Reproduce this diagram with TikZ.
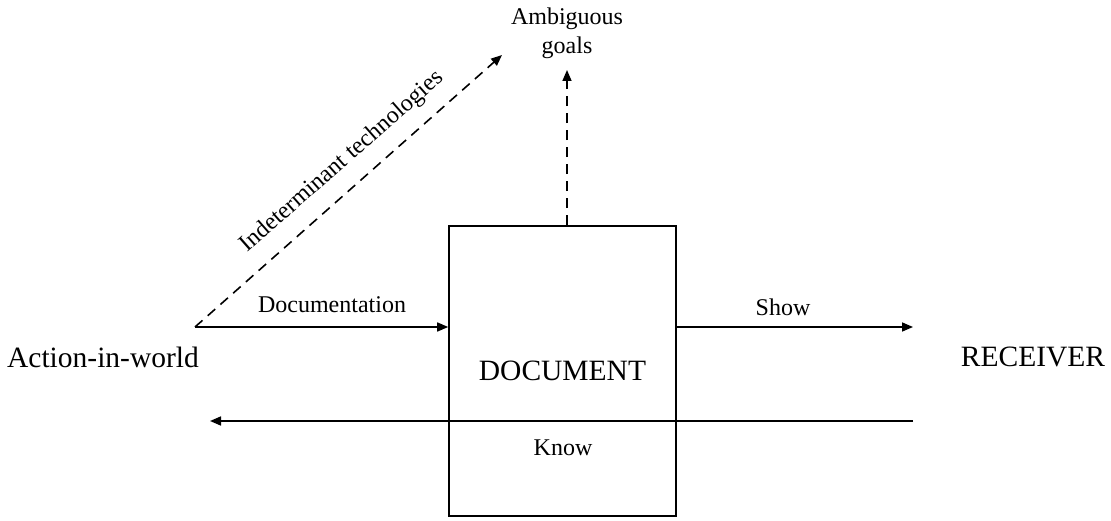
\documentclass[tikz,border=0pt]{standalone}
\usepackage{fontspec}
\setmainfont{Liberation Serif}
\usetikzlibrary{arrows.meta}
\begin{document}
\begin{tikzpicture}[x=1pt,y=-1pt,
  big/.style={font=\fontsize{29.5}{32}\selectfont, inner sep=0pt},
  small/.style={font=\fontsize{24}{29}\selectfont, inner sep=0pt},
  conn/.style={line width=1.6pt, -{Triangle[length=11pt,width=9pt]}},
  dconn/.style={conn, dash pattern=on 10pt off 7pt},
  docbox/.style={draw, line width=1.6pt, minimum width=227pt, minimum height=290pt, inner sep=0pt, font=\fontsize{29.5}{32}\selectfont}]
\useasboundingbox (0,0) rectangle (1111,521);
\node[docbox] (doc) at (562.5,371) {DOCUMENT};
\node[big] (action) at (103,357) {Action-in-world};
\node[big] (receiver) at (1033,357) {RECEIVER};
\node[small, align=center] (goals) at (567,33) {Ambiguous\\goals};
\coordinate (start) at (195,327);
\coordinate (showend) at (913,327);
\coordinate (diagend) at (502,55);
\coordinate (upend) at (567,70);
\coordinate (knowr) at (913,421);
\coordinate (knowl) at (210,421);
\draw[conn] (start) -- (start -| doc.west);
\draw[conn] (doc.east |- start) -- (showend);
\draw[conn] (knowr) -- (knowl);
\draw[dconn] (start) -- (diagend);
\draw[dconn] (doc.north -| upend) -- (upend);
\node[small] (doclab) at (332,305) {Documentation};
\node[small] (showlab) at (783,307) {Show};
\node[small] (knowlab) at (563,448) {Know};
\node[small, rotate=41.4] (techlab) at (342,162) {Indeterminant technologies};
\end{tikzpicture}
\end{document}
